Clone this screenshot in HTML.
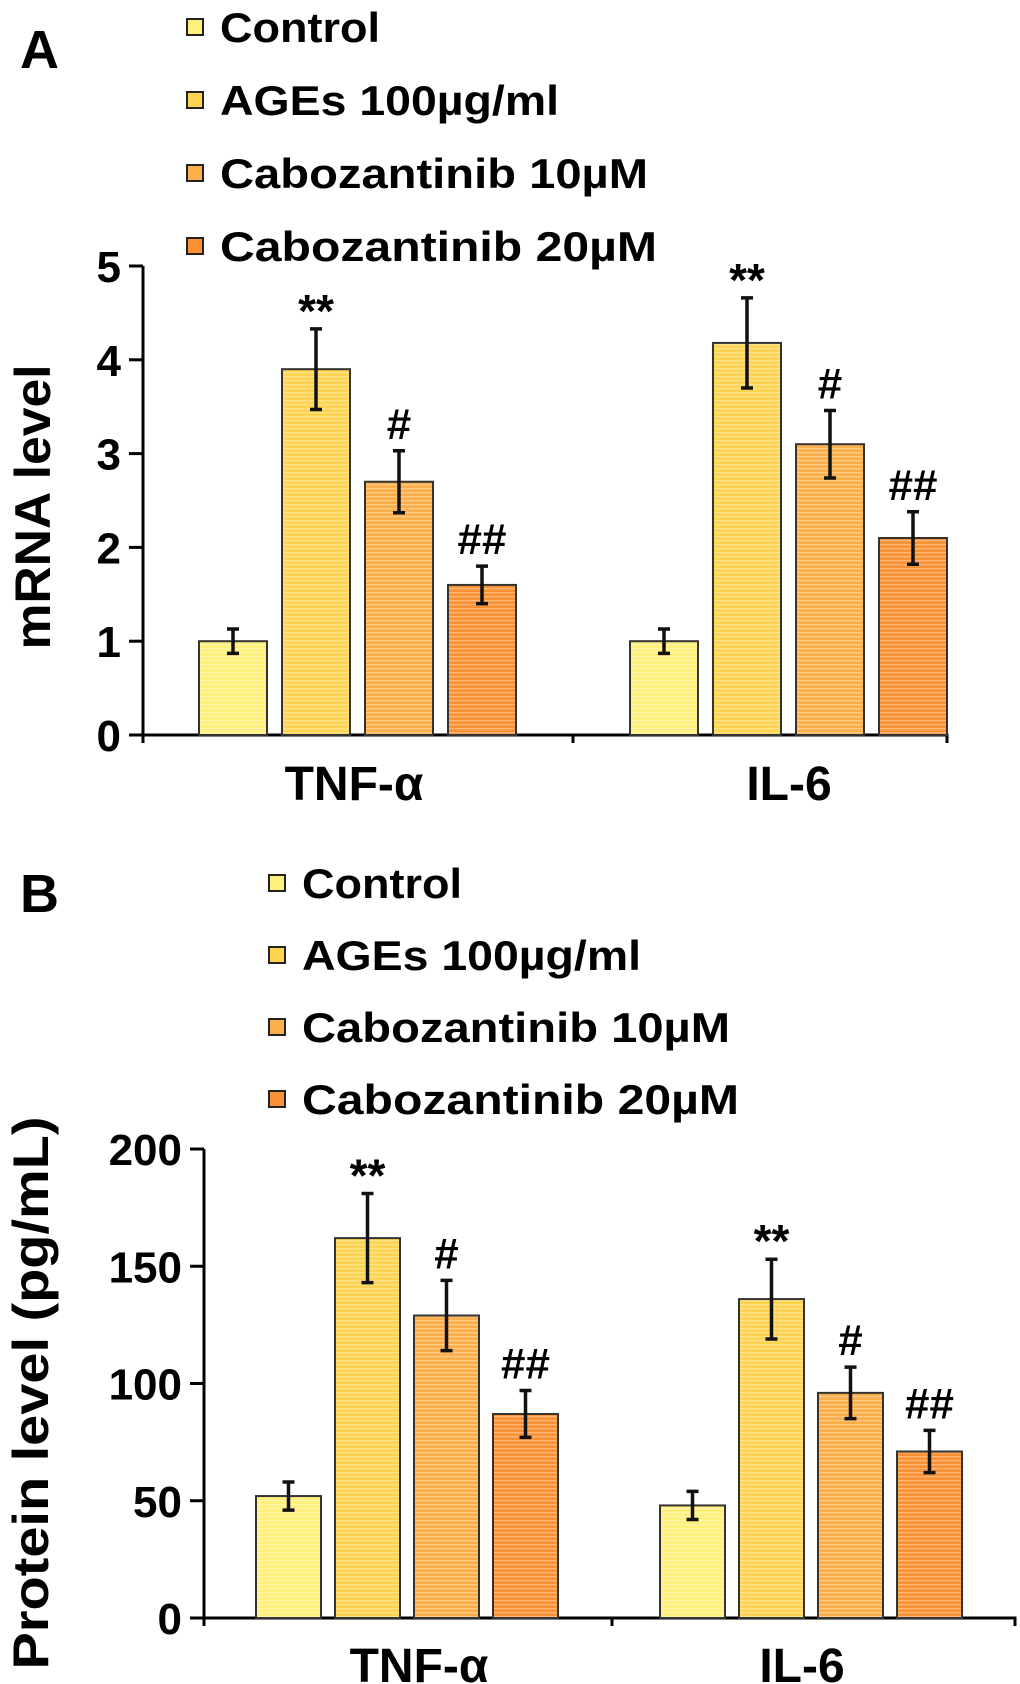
<!DOCTYPE html>
<html><head><meta charset="utf-8"><style>
html,body{margin:0;padding:0;background:#fff;}
svg{display:block;}
text{font-family:"Liberation Sans",sans-serif;font-weight:bold;fill:#000;}
</style></head><body>
<svg id="chart" width="1020" height="1684" viewBox="0 0 1020 1684" xmlns="http://www.w3.org/2000/svg">
<defs>
<pattern id="stripes" width="6" height="4" patternUnits="userSpaceOnUse">
<rect x="0" y="0" width="6" height="1.3" fill="#ffffff" fill-opacity="0.35"/>
</pattern>
</defs>
<g id="panelA"></g>
<g id="panelB"></g>
</svg>
<script>
const seriesNames = ["Control", "AGEs 100\u00B5g/ml", "Cabozantinib 10\u00B5M", "Cabozantinib  20\u00B5M"];
const categories = ["TNF-\u03B1", "IL-6"];
const colors = ["#fff07c", "#fdd34f", "#fbaf4a", "#f99235"];
const mrnaValues = [[1.0, 3.9, 2.7, 1.6], [1.0, 4.18, 3.1, 2.1]];
const mrnaErrors = [[0.13, 0.43, 0.33, 0.2], [0.13, 0.48, 0.36, 0.28]];
const mrnaTicks = [0, 1, 2, 3, 4, 5];
const proteinValues = [[52, 162, 129, 87], [48, 136, 96, 71]];
const proteinErrors = [[6, 19, 15, 10], [6, 17, 11, 9]];
const proteinTicks = [0, 50, 100, 150, 200];
const sigLabels = [["", "**", "#", "##"], ["", "**", "#", "##"]];
const legendLengths = [160, 339, 428, 437];

const NS = "http://www.w3.org/2000/svg";
function mk(parent, tag, attrs, txt) {
  const e = document.createElementNS(NS, tag);
  for (const k in attrs) e.setAttribute(k, attrs[k]);
  if (txt !== undefined) e.textContent = txt;
  parent.appendChild(e);
  return e;
}

function drawPanel(g, cfg) {
  const yScale = v => cfg.y0 - (v - cfg.yMin) / (cfg.yMax - cfg.yMin) * (cfg.y0 - cfg.yTop);
  const L = mk(g, "text", {x: cfg.letterX, y: cfg.letterY, "font-size": 54}, cfg.letter);
  
  
  seriesNames.forEach((n, i) => {
    const cy = cfg.legY + i * cfg.legStep;
    const sq = mk(g, "rect", {x: cfg.legX, y: cy - 8, width: 16, height: 16, fill: colors[i], stroke: "#222", "stroke-width": 2});
    
    
    const t = mk(g, "text", {x: cfg.legX + 33, y: cy + 15, "font-size": 42, textLength: legendLengths[i], lengthAdjust: "spacingAndGlyphs", "xml:space": "preserve"}, n);
    
    
  });
  const ya = mk(g, "line", {x1: cfg.ax, y1: cfg.yTop, x2: cfg.ax, y2: cfg.y0 + 8, stroke: "#000", "stroke-width": 3});
  
  
  const xa = mk(g, "path", {d: `M${cfg.ax - 14},${cfg.y0} H${cfg.axEnd} v8 M${cfg.midTick},${cfg.y0} v8`, stroke: "#000", "stroke-width": 3, fill: "none"});
  
  
  cfg.ticks.forEach(v => {
    const y = yScale(v);
    const tk = mk(g, "line", {x1: cfg.ax - 14, y1: y, x2: cfg.ax, y2: y, stroke: "#000", "stroke-width": 3});
    
    
    const tl = mk(g, "text", {x: cfg.ax - 22, y: y + 16, "font-size": 44, "text-anchor": "end"}, String(v));
    
    
  });
  const yt = mk(g, "text", {x: 0, y: 0, "font-size": cfg.titleSize, "text-anchor": "middle", textLength: cfg.titleLen, lengthAdjust: "spacingAndGlyphs", transform: `translate(${cfg.titleX},${cfg.titleY}) rotate(-90)`}, cfg.title);
  
  
  categories.forEach((c, ci) => {
    cfg.values[ci].forEach((v, si) => {
      const x = cfg.groupStart[ci] + si * cfg.step;
      const y = yScale(v);
      const b = mk(g, "rect", {x: x, y: y, width: cfg.bw, height: cfg.y0 - y, fill: colors[si], stroke: "#333", "stroke-width": 2});
      
      
      const ov = mk(g, "rect", {x: x + 1, y: y + 1, width: cfg.bw - 2, height: Math.max(0, cfg.y0 - y - 2), fill: "url(#stripes)"});
      
      
      const e = cfg.errors[ci][si];
      const cx = x + cfg.bw / 2;
      const yh = yScale(v + e), yl = yScale(v - e);
      const eb = mk(g, "path", {d: `M${cx},${yh} V${yl} M${cx - 6},${yh} h12 M${cx - 6},${yl} h12`, stroke: "#111", "stroke-width": 3.5, fill: "none"});
      
      
      const s = sigLabels[ci][si];
      if (s) {
        const st = mk(g, "text", {x: cx, y: yh - (s === "**" ? 2 : 12), "font-size": s === "**" ? 46 : 44, "text-anchor": "middle"}, s);
        
        
      }
    });
    const xl = mk(g, "text", {x: cfg.catX[ci], y: cfg.catY, "font-size": 48, "text-anchor": "middle"}, c);
    
    
  });
}

drawPanel(document.getElementById("panelA"), {
  letter: "A", letterX: 20, letterY: 68,
  legX: 187, legY: 27, legStep: 73,
  ax: 143, axEnd: 947, midTick: 573, y0: 735, yTop: 266, yMin: 0, yMax: 5,
  ticks: mrnaTicks, title: "mRNA level", titleX: 50, titleY: 507, titleSize: 50, titleLen: 285,
  values: mrnaValues, errors: mrnaErrors,
  groupStart: [199, 630], step: 83, bw: 68,
  catX: [354, 789], catY: 800
});
drawPanel(document.getElementById("panelB"), {
  letter: "B", letterX: 20, letterY: 912,
  legX: 269, legY: 883, legStep: 72,
  ax: 204, axEnd: 1015, midTick: 612, y0: 1618, yTop: 1149, yMin: 0, yMax: 200,
  ticks: proteinTicks, title: "Protein level (pg/mL)", titleX: 48, titleY: 1393, titleSize: 50, titleLen: 553,
  values: proteinValues, errors: proteinErrors,
  groupStart: [256, 660], step: 79, bw: 65,
  catX: [419, 802], catY: 1682
});
</script>
</body></html>
